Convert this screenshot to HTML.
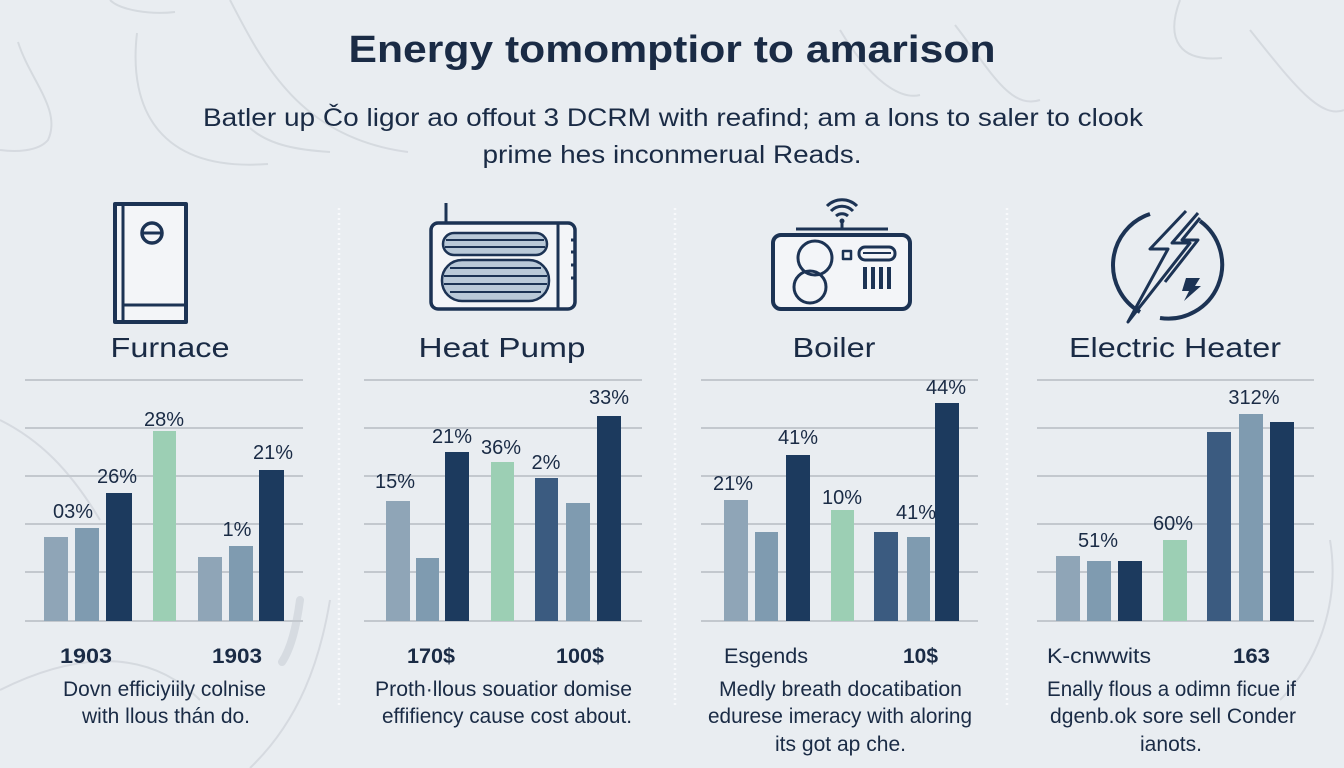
<!DOCTYPE html>
<html><head><meta charset="utf-8"><style>
html,body{margin:0;padding:0;background:#e9edf1;}
svg{display:block;}
text{font-family:"Liberation Sans","DejaVu Sans",sans-serif;fill:#1a2b45;}
</style></head><body>
<svg width="1344" height="768" viewBox="0 0 1344 768" xmlns="http://www.w3.org/2000/svg">
<rect width="1344" height="768" fill="#e9edf1"/>
<!-- decorative swirls -->
<g fill="none" stroke="#cdd2d8" stroke-width="2" opacity="0.7">
<path d="M18,42 C30,80 62,110 48,140 C38,152 14,152 0,150"/>
<path d="M137,33 C128,110 160,172 268,164"/>
<path d="M230,0 C262,62 300,138 408,152"/>
<path d="M250,128 C270,146 300,150 330,152"/>
<path d="M110,0 C120,10 150,15 175,12"/>
<path d="M955,25 C990,70 1010,110 1040,100"/>
<path d="M1180,0 C1165,40 1180,62 1222,58"/>
<path d="M1250,30 C1290,80 1320,120 1344,110"/>
<path d="M840,30 C870,80 900,100 920,95"/>
<path d="M0,420 C40,440 70,470 100,520"/>
<path d="M0,690 C60,660 140,640 200,700"/>
<path d="M330,600 C320,660 300,720 250,768"/>
<path d="M1330,540 C1340,600 1320,660 1280,700"/>
</g>
<path d="M300,600 C296,630 290,650 282,662" stroke="#c4cad1" stroke-width="8" fill="none" opacity="0.5" stroke-linecap="round"/>

<!-- title -->
<text x="672" y="62" font-size="38" font-weight="bold" text-anchor="middle" textLength="647" lengthAdjust="spacingAndGlyphs">Energy tomomptior to amarison</text>
<text x="673" y="126" font-size="25" text-anchor="middle" textLength="940" lengthAdjust="spacingAndGlyphs">Batler up Čo ligor ao offout 3 DCRM with reafind; am a lons to saler to clook</text>
<text x="672" y="163" font-size="25" text-anchor="middle" textLength="379" lengthAdjust="spacingAndGlyphs">prime hes inconmerual Reads.</text>

<!-- separators -->
<g stroke="#f8f9fb" stroke-width="2.5" stroke-dasharray="2 3">
<line x1="339" y1="208" x2="339" y2="705"/>
<line x1="675" y1="208" x2="675" y2="705"/>
<line x1="1007" y1="208" x2="1007" y2="705"/>
</g>

<!-- icons -->
<g stroke="#1c3354" fill="none" stroke-linejoin="round">
<!-- furnace -->
<rect x="115" y="204" width="71" height="118" fill="#f3f5f8" stroke-width="4"/>
<line x1="123" y1="204" x2="123" y2="322" stroke-width="3"/>
<line x1="123" y1="305" x2="186" y2="305" stroke-width="3"/>
<circle cx="152" cy="233" r="10" stroke-width="3.5"/>
<line x1="143" y1="233" x2="161" y2="233" stroke-width="3"/>
<!-- heat pump -->
<line x1="446" y1="203" x2="446" y2="224" stroke-width="3"/>
<rect x="431" y="223" width="144" height="86" rx="7" fill="#f3f5f8" stroke-width="3.5"/>
<line x1="558" y1="223" x2="558" y2="309" stroke-width="3"/>
<g stroke-width="3"><line x1="571" y1="240" x2="576" y2="240"/><line x1="571" y1="252" x2="576" y2="252"/><line x1="571" y1="265" x2="576" y2="265"/><line x1="571" y1="278" x2="576" y2="278"/></g>
<rect x="443" y="233" width="104" height="22" rx="11" fill="#b9c9d8" stroke-width="2.5"/>
<g stroke-width="2"><line x1="446" y1="240" x2="544" y2="240"/><line x1="445" y1="247" x2="545" y2="247"/></g>
<rect x="442" y="260" width="107" height="41" rx="20" fill="#b9c9d8" stroke-width="2.5"/>
<g stroke-width="2"><line x1="450" y1="268" x2="541" y2="268"/><line x1="444" y1="276" x2="547" y2="276"/><line x1="444" y1="284" x2="547" y2="284"/><line x1="450" y1="292" x2="541" y2="292"/></g>
<!-- boiler -->
<line x1="796" y1="229" x2="888" y2="229" stroke-width="3"/>
<line x1="842" y1="222" x2="842" y2="229" stroke-width="3"/>
<circle cx="842" cy="221" r="2.5" fill="#1c3354" stroke="none"/>
<path d="M836,216 A9,9 0 0 1 848,216" stroke-width="3"/>
<path d="M831,211 A15,15 0 0 1 853,211" stroke-width="3"/>
<path d="M827,206 A21,21 0 0 1 857,206" stroke-width="3"/>
<rect x="773" y="235" width="137" height="74" rx="8" fill="#f3f5f8" stroke-width="4"/>
<circle cx="815" cy="258" r="17" stroke-width="3"/>
<circle cx="810" cy="287" r="16" stroke-width="3"/>
<rect x="843" y="251" width="8" height="8" stroke-width="2.5"/>
<rect x="859" y="247" width="36" height="13" rx="6" stroke-width="3"/>
<line x1="863" y1="253" x2="891" y2="253" stroke-width="2"/>
<g fill="#1c3354" stroke="none"><rect x="863" y="267" width="4" height="22"/><rect x="871" y="267" width="4" height="22"/><rect x="879" y="267" width="4" height="22"/><rect x="887" y="267" width="4" height="22"/></g>
<!-- electric heater -->
<path d="M1150,214 A54,54 0 0 0 1140,312" stroke-width="4"/>
<path d="M1200,221 A54,54 0 0 1 1160,318" stroke-width="4"/>
<path d="M1186,211 L1150,249 L1168,249 L1128,322 L1190,243 L1172,243 L1198,213" stroke-width="3"/>
<path d="M1200,218 L1182,240 L1198,240 L1165,282" stroke-width="3"/>
<polygon points="1186,278 1200,278 1195,286 1201,286 1184,301 1189,291 1182,291" fill="#1c3354" stroke="none"/>
</g>

<!-- panel titles -->
<text x="170" y="357" font-size="28" text-anchor="middle" textLength="119" lengthAdjust="spacingAndGlyphs">Furnace</text>
<text x="502" y="357" font-size="28" text-anchor="middle" textLength="167" lengthAdjust="spacingAndGlyphs">Heat Pump</text>
<text x="834" y="357" font-size="28" text-anchor="middle" textLength="83" lengthAdjust="spacingAndGlyphs">Boiler</text>
<text x="1175" y="357" font-size="28" text-anchor="middle" textLength="212" lengthAdjust="spacingAndGlyphs">Electric Heater</text>

<!-- gridlines -->
<g stroke="#c3c8ce" stroke-width="2">
<line x1="25" y1="380" x2="303" y2="380"/><line x1="25" y1="428" x2="303" y2="428"/><line x1="25" y1="476" x2="303" y2="476"/><line x1="25" y1="524" x2="303" y2="524"/><line x1="25" y1="572" x2="303" y2="572"/><line x1="25" y1="621" x2="303" y2="621"/>
<line x1="364" y1="380" x2="642" y2="380"/><line x1="364" y1="428" x2="642" y2="428"/><line x1="364" y1="476" x2="642" y2="476"/><line x1="364" y1="524" x2="642" y2="524"/><line x1="364" y1="572" x2="642" y2="572"/><line x1="364" y1="621" x2="642" y2="621"/>
<line x1="701" y1="380" x2="978" y2="380"/><line x1="701" y1="428" x2="978" y2="428"/><line x1="701" y1="476" x2="978" y2="476"/><line x1="701" y1="524" x2="978" y2="524"/><line x1="701" y1="572" x2="978" y2="572"/><line x1="701" y1="621" x2="978" y2="621"/>
<line x1="1037" y1="380" x2="1314" y2="380"/><line x1="1037" y1="428" x2="1314" y2="428"/><line x1="1037" y1="476" x2="1314" y2="476"/><line x1="1037" y1="524" x2="1314" y2="524"/><line x1="1037" y1="572" x2="1314" y2="572"/><line x1="1037" y1="621" x2="1314" y2="621"/>
</g>

<!-- bars -->
<g>
<rect x="44" y="537" width="24" height="84" fill="#8fa5b7"/>
<rect x="75" y="528" width="24" height="93" fill="#7f9bb0"/>
<rect x="106" y="493" width="26" height="128" fill="#1c3a5e"/>
<rect x="153" y="431" width="23" height="190" fill="#9ccfb4"/>
<rect x="198" y="557" width="24" height="64" fill="#8fa5b7"/>
<rect x="229" y="546" width="24" height="75" fill="#7f9bb0"/>
<rect x="259" y="470" width="25" height="151" fill="#1c3a5e"/>
<rect x="386" y="501" width="24" height="120" fill="#8fa5b7"/>
<rect x="416" y="558" width="23" height="63" fill="#7f9bb0"/>
<rect x="445" y="452" width="24" height="169" fill="#1c3a5e"/>
<rect x="491" y="462" width="23" height="159" fill="#9ccfb4"/>
<rect x="535" y="478" width="23" height="143" fill="#3b5b80"/>
<rect x="566" y="503" width="24" height="118" fill="#7f9bb0"/>
<rect x="597" y="416" width="24" height="205" fill="#1c3a5e"/>
<rect x="724" y="500" width="24" height="121" fill="#8fa5b7"/>
<rect x="755" y="532" width="23" height="89" fill="#7f9bb0"/>
<rect x="786" y="455" width="24" height="166" fill="#1c3a5e"/>
<rect x="831" y="510" width="23" height="111" fill="#9ccfb4"/>
<rect x="874" y="532" width="24" height="89" fill="#3b5b80"/>
<rect x="907" y="537" width="23" height="84" fill="#7f9bb0"/>
<rect x="935" y="403" width="24" height="218" fill="#1c3a5e"/>
<rect x="1056" y="556" width="24" height="65" fill="#8fa5b7"/>
<rect x="1087" y="561" width="24" height="60" fill="#7f9bb0"/>
<rect x="1118" y="561" width="24" height="60" fill="#1c3a5e"/>
<rect x="1163" y="540" width="24" height="81" fill="#9ccfb4"/>
<rect x="1207" y="432" width="24" height="189" fill="#3b5b80"/>
<rect x="1239" y="414" width="24" height="207" fill="#7f9bb0"/>
<rect x="1270" y="422" width="24" height="199" fill="#1c3a5e"/>
</g>

<!-- bar labels -->
<g font-size="20" text-anchor="middle">
<text x="73" y="518">03%</text>
<text x="117" y="483">26%</text>
<text x="164" y="426">28%</text>
<text x="273" y="459">21%</text>
<text x="237" y="536">1%</text>
<text x="395" y="488">15%</text>
<text x="452" y="443">21%</text>
<text x="501" y="454">36%</text>
<text x="546" y="469">2%</text>
<text x="609" y="404">33%</text>
<text x="733" y="490">21%</text>
<text x="798" y="444">41%</text>
<text x="842" y="504">10%</text>
<text x="916" y="519">41%</text>
<text x="946" y="394">44%</text>
<text x="1098" y="547">51%</text>
<text x="1173" y="530">60%</text>
<text x="1254" y="404">312%</text>
</g>

<!-- bottom labels -->
<g font-size="21">
<text x="60" y="663" font-weight="bold" fill="#22324b" textLength="52" lengthAdjust="spacingAndGlyphs">1903</text>
<text x="212" y="663" font-weight="bold" fill="#22324b" textLength="50" lengthAdjust="spacingAndGlyphs">1903</text>
<text x="407" y="663" font-weight="bold" fill="#22324b" textLength="48" lengthAdjust="spacingAndGlyphs">170$</text>
<text x="556" y="663" font-weight="bold" fill="#22324b" textLength="48" lengthAdjust="spacingAndGlyphs">100$</text>
<text x="724" y="663" textLength="84" lengthAdjust="spacingAndGlyphs">Esgends</text>
<text x="903" y="663" font-weight="bold" fill="#22324b" textLength="35" lengthAdjust="spacingAndGlyphs">10$</text>
<text x="1047" y="663" textLength="104" lengthAdjust="spacingAndGlyphs">K-cnwwits</text>
<text x="1233" y="663" font-weight="bold" fill="#22324b" textLength="37" lengthAdjust="spacingAndGlyphs">163</text>
</g>

<!-- descriptions -->
<g font-size="21">
<text x="63" y="696" textLength="203" lengthAdjust="spacingAndGlyphs">Dovn efficiyiily colnise</text>
<text x="82" y="723" textLength="168" lengthAdjust="spacingAndGlyphs">with llous thán do.</text>
<text x="375" y="696" textLength="257" lengthAdjust="spacingAndGlyphs">Proth·llous souatior domise</text>
<text x="382" y="723" textLength="250" lengthAdjust="spacingAndGlyphs">effifiency cause cost about.</text>
<text x="719" y="696" textLength="243" lengthAdjust="spacingAndGlyphs">Medly breath docatibation</text>
<text x="708" y="723" textLength="264" lengthAdjust="spacingAndGlyphs">edurese imeracy with aloring</text>
<text x="775" y="751" textLength="131" lengthAdjust="spacingAndGlyphs">its got ap che.</text>
<text x="1047" y="696" textLength="249" lengthAdjust="spacingAndGlyphs">Enally flous a odimn ficue if</text>
<text x="1050" y="723" textLength="246" lengthAdjust="spacingAndGlyphs">dgenb.ok sore sell Conder</text>
<text x="1140" y="751" textLength="62" lengthAdjust="spacingAndGlyphs">ianots.</text>
</g>
</svg>
</body></html>
